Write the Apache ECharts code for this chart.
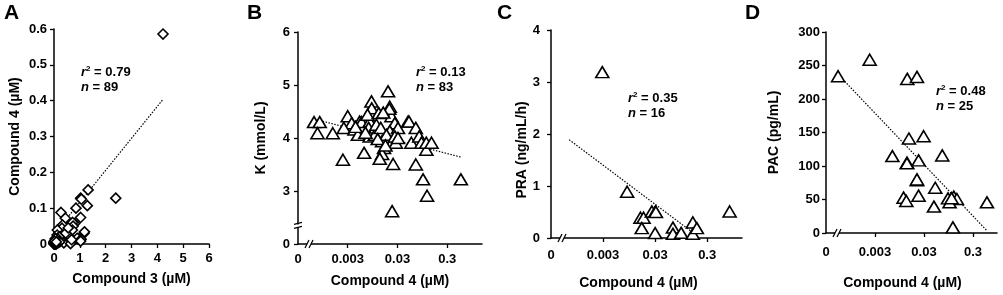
<!DOCTYPE html>
<html>
<head>
<meta charset="utf-8">
<script src="https://cdn.jsdelivr.net/npm/echarts@6.0.0/dist/echarts.min.js"></script>
<style>
  html, body { margin: 0; background: #fff; }
  #chart { width: 1003px; height: 295px; }
</style>
</head>
<body>
<div id="chart"></div>
<script>
// A: compound 3 vs compound 4 (µM)
const aX = [4.22, 2.39, 1.32, 1.03, 1.06, 1.29, 0.85, 0.27, 0.44, 1.03, 0.80, 0.72, 0.74, 0.33, 0.31,
  0.71, 0.13, 0.12, 1.16, 1.18, 0.51, 0.60, 0.90, 1.05, 1.03, 0.38, 0.64, 0.25, 0.45, 0.55, 0.68, 0.20,
  0.08, 0.02, 0.04, 0.06, 0.01, 0.03, 0.05, 0.07, 0.09, 0.00, 0.02, 0.10, 0.12, 0.15, 0.18, 0.03, 0.06,
  0.11, 0.14, 0.16, 0.22, 0.05, 0.01, 0.04, 0.08, 0.00, 0.03, 0.06, 0.02, 0.09];
const aY = [0.586, 0.128, 0.151, 0.128, 0.125, 0.107, 0.100, 0.088, 0.072, 0.074, 0.057, 0.060, 0.050,
  0.053, 0.044, 0.039, 0.039, 0.025, 0.030, 0.034, 0.020, 0.020, 0.016, 0.013, 0.008, 0.003, 0.001,
  0.011, 0.030, 0.045, 0.012, 0.020, 0.012, 0.002, 0.004, 0.001, 0.006, 0.008, 0.003, 0.005, 0.002,
  0.000, 0.005, 0.004, 0.007, 0.003, 0.009, 0.010, 0.007, 0.012, 0.015, 0.005, 0.006, 0.015, 0.001,
  0.000, 0.000, 0.004, 0.001, 0.003, 0.008, 0.006];
const aTrendX = [0, 4.2];
const aTrendY = [0.027, 0.402];

// B: compound 4 (µM) vs K (mmol/L)
const bX = [0.00063, 0.00082, 0.00074, 0.0015, 0.0024, 0.0030, 0.0036, 0.0025, 0.0041, 0.0048, 0.0052,
  0.0057, 0.0064, 0.0083, 0.0090, 0.0091, 0.0075, 0.0079, 0.0083, 0.0105, 0.0126, 0.0113, 0.0138,
  0.0147, 0.0161, 0.0147, 0.0132, 0.0194, 0.021, 0.0227, 0.0265, 0.021, 0.018, 0.0234, 0.0307, 0.0265,
  0.0245, 0.0234, 0.049, 0.057, 0.051, 0.070, 0.082, 0.091, 0.114, 0.114, 0.145, 0.070, 0.098, 0.118,
  0.564, 0.0278, 0.0307, 0.0043, 0.0068, 0.012, 0.0172, 0.0205, 0.0155];
const bY = [4.30, 4.30, 4.09, 4.09, 3.59, 4.41, 4.28, 4.19, 4.16, 4.06, 4.31, 4.30, 3.72, 4.31, 4.69,
  4.56, 4.44, 4.19, 4.03, 4.06, 4.47, 4.25, 4.19, 3.94, 3.81, 3.70, 3.61, 4.88, 4.59, 4.41, 4.28, 4.13,
  4.06, 3.92, 4.19, 4.03, 3.51, 2.62, 4.31, 3.91, 4.31, 4.19, 4.03, 3.91, 3.78, 3.91, 3.91, 3.50, 3.22,
  2.91, 3.22, 3.91, 4.00, 4.21, 4.10, 3.98, 3.86, 4.55, 4.48];
const bTrendX = [0.00082, 0.56];
const bTrendY = [4.33, 3.64];

// C: compound 4 (µM) vs PRA (ng/mL/h)
const cX = [0.0029, 0.0087, 0.0157, 0.018, 0.0166, 0.026, 0.0304, 0.030, 0.066, 0.066, 0.095, 0.159,
  0.159, 0.19, 0.81, 0.031];
const cY = [3.19, 0.89, 0.39, 0.39, 0.19, 0.51, 0.51, 0.095, 0.20, 0.08, 0.10, 0.30, 0.08, 0.19, 0.51, 0.50];
const cTrendX = [0.00067, 0.147];
const cTrendY = [1.89, 0.13];

// D: compound 4 (µM) vs PAC (pg/mL)
const dX = [0.00053, 0.00234, 0.0137, 0.0216, 0.0148, 0.0295, 0.0068, 0.0135, 0.0233, 0.0709, 0.0216,
  0.0115, 0.0131, 0.0233, 0.051, 0.048, 0.093, 0.122, 0.141, 0.100, 0.117, 0.58, 0.0135, 0.11, 0.0216];
const dY = [234, 258.6, 230, 233, 141, 144.4, 114.8, 105, 108.4, 115.8, 78.8, 52.7, 47.8, 55.7, 67.5,
  39.4, 51.7, 54.2, 50.7, 45.8, 8.4, 45.8, 104, 52, 80];
const dTrendX = [0.00072, 0.58];
const dTrendY = [226.5, 3.4];

// log x axis ticks (the first one sits at the broken "0")
const logTicks = [0.0003, 0.003, 0.03, 0.3];
const logTickLabels = ['0', '0.003', '0.03', '0.3'];

const chart = echarts.init(document.getElementById('chart'));

const font = '"Liberation Sans", Arial, sans-serif';
const txt = { color: '#000', fontFamily: font, fontWeight: 'bold', fontSize: 13 };
const nameTxt = { ...txt, fontSize: 14 };
const axisLine = { onZero: false, lineStyle: { color: '#000', width: 1.5 } };
const tick = { inside: false, length: 4, lineStyle: { color: '#000', width: 1.3 } };

const pairs = (xs, ys, log) => xs.map((x, i) => [log ? Math.log10(x) : x, ys[i]]);

function logXAxis(i, max, name, gap, margin, pad) {
  const vals = logTicks.map(Math.log10);
  return {
    type: 'value', gridIndex: i,
    min: vals[0], max: Math.log10(max),
    axisLine, splitLine: { show: false },
    axisTick: { ...tick, customValues: vals.slice(1) },
    axisLabel: {
      ...txt, margin, customValues: vals,
      formatter: v => logTickLabels[vals.findIndex(t => Math.abs(t - v) < 1e-6)]
    },
    name, nameLocation: 'middle', nameGap: gap,
    nameTextStyle: { ...nameTxt, padding: pad || 0 }
  };
}

function yAxis(i, min, max, interval, name, gap, margin, fmt, pad) {
  return {
    type: 'value', gridIndex: i, min, max, interval,
    axisLine, splitLine: { show: false }, axisTick: tick,
    axisLabel: { ...txt, margin, formatter: fmt },
    name, nameLocation: 'middle', nameGap: gap,
    nameTextStyle: { ...nameTxt, padding: pad || 0 }
  };
}

function trend(i, xs, ys, log) {
  return {
    type: 'line', xAxisIndex: i, yAxisIndex: i, data: pairs(xs, ys, log),
    symbol: 'none', silent: true, z: 1,
    lineStyle: { color: '#000', width: 1.2, type: [1.5, 1.5] }
  };
}

function points(i, xs, ys, log, symbol, size) {
  return {
    type: 'scatter', xAxisIndex: i, yAxisIndex: i, data: pairs(xs, ys, log),
    symbol, symbolSize: size, clip: false, z: 2,
    itemStyle: { color: '#fff', borderColor: '#000', borderWidth: 1.6, opacity: 1 }
  };
}

chart.setOption({
  animation: false,
  backgroundColor: '#fff',
  grid: [
    { left: 54, top: 29, width: 155, height: 215 },
    { left: 298, top: 32, width: 184, height: 212 },
    { left: 551, top: 30, width: 191, height: 210 },
    { left: 826, top: 32, width: 171, height: 203 }
  ],
  xAxis: [
    {
      type: 'value', gridIndex: 0, min: 0, max: 6, interval: 1,
      axisLine, splitLine: { show: false }, axisTick: tick,
      axisLabel: { ...txt, margin: 8 },
      name: 'Compound 3 (µM)', nameLocation: 'middle', nameGap: 28, nameTextStyle: nameTxt
    },
    logXAxis(1, 1.5, 'Compound 4 (µM)', 30, 9),
    logXAxis(2, 1.4, 'Compound 4 (µM)', 38, 11, [0, 16, 0, 0]),
    logXAxis(3, 0.93, 'Compound 4 (µM)', 43, 13, [0, 18, 0, 0])
  ],
  yAxis: [
    yAxis(0, 0, 0.6, 0.1, 'Compound 4 (µM)', 32, 7),
    yAxis(1, 2, 6, 1, 'K (mmol/L)', 30, 8, v => (v === 2 ? '0' : String(v))),
    yAxis(2, 0, 4, 1, 'PRA (ng/mL/h)', 16, 11, null, [0, 32, 0, 0]),
    yAxis(3, 0, 300, 50, 'PAC (pg/mL)', 45, 6)
  ],
  series: [
    trend(0, aTrendX, aTrendY, false),
    points(0, aX, aY, false, 'diamond', 10),
    trend(1, bTrendX, bTrendY, true),
    points(1, bX, bY, true, 'triangle', [13, 11]),
    trend(2, cTrendX, cTrendY, true),
    points(2, cX, cY, true, 'triangle', [13, 11]),
    trend(3, dTrendX, dTrendY, true),
    points(3, dX, dY, true, 'triangle', [13, 11])
  ]
});

// panel letters, r²/n notes and the axis break marks go in one graphic list
function stat(left, top, r2, n) {
  return {
    type: 'text', left, top,
    style: {
      text: `{i|r}{s|2}{b| = ${r2}}\n{i|n}{b| = ${n}}`,
      rich: {
        i: { ...txt, fontSize: 13, fontStyle: 'italic', lineHeight: 15 },
        b: { ...txt, fontSize: 13, lineHeight: 15 },
        s: { ...txt, fontSize: 8, lineHeight: 15, padding: [0, 0, 6, 0] }
      }
    }
  };
}
const letter = (left, text) => ({
  type: 'text', left, top: 3, style: { text, ...txt, fontSize: 21, fill: '#000' }
});
const ln = (x1, y1, x2, y2) => ({
  type: 'line', shape: { x1, y1, x2, y2 }, style: { stroke: '#000', lineWidth: 1.2 }, z: 100
});
const gapRect = (x, y, w, h) => ({
  type: 'rect', shape: { x, y, width: w, height: h }, style: { fill: '#fff' }, z: 99
});

const graphics = [
  letter(4, 'A'), letter(247, 'B'), letter(497, 'C'), letter(745, 'D'),
  stat(81, 65, '0.79', 89),
  stat(416, 65, '0.13', 83),
  stat(628, 91, '0.35', 16),
  stat(936, 84, '0.48', 25)
];
[1, 2, 3].forEach(i => {
  const yMin = i === 1 ? 2 : 0;
  const o = chart.convertToPixel({ xAxisIndex: i, yAxisIndex: i }, [Math.log10(logTicks[0]), yMin]);
  const bx = o[0] + 10, by = o[1];
  graphics.push(gapRect(bx - 1, by - 2, 4, 4), ln(bx - 3, by + 4, bx + 1, by - 4), ln(bx + 1, by + 4, bx + 5, by - 4));
  if (i === 1) {
    const p = chart.convertToPixel({ xAxisIndex: i, yAxisIndex: i }, [Math.log10(logTicks[0]), 2.35]);
    graphics.push(gapRect(p[0] - 2, p[1] - 1, 4, 3),
      ln(p[0] - 4, p[1] - 1, p[0] + 4, p[1] - 3), ln(p[0] - 4, p[1] + 3, p[0] + 4, p[1] + 1));
  }
});
chart.setOption({ graphic: graphics });
</script>
</body>
</html>
